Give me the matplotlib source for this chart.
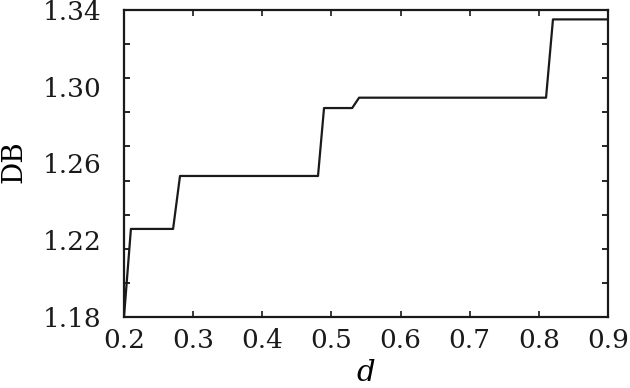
import matplotlib
matplotlib.use("Agg")
import matplotlib.pyplot as plt
import numpy as np

# data
d_vals = [0.200, 0.210, 0.271, 0.281, 0.4806, 0.4893, 0.530, 0.540, 0.8104, 0.8204, 0.900]
db_vals = [1.180, 1.2259, 1.2259, 1.2535, 1.2535, 1.2889, 1.2889, 1.2943, 1.2943, 1.3351, 1.3351]

x_ticks = [0.2, 0.3, 0.4, 0.5, 0.6, 0.7, 0.8, 0.9]
y_label_ticks = [1.18, 1.22, 1.26, 1.30, 1.34]
y_ticklabels = ["1.18", "1.22", "1.26", "1.30", "1.34"]

plt.rcParams['font.family'] = ['DejaVu Serif']
plt.rcParams['mathtext.fontset'] = 'dejavuserif'

fig = plt.figure(figsize=(6.3, 3.88), dpi=100)
ax = fig.add_axes([124/630, 1-317/388, (608-124)/630, (317-10)/388])

ax.plot(d_vals, db_vals, color='#1a1a1a', lw=1.6)

ax.set_xlim(0.2, 0.9)
ax.set_ylim(1.18, 1.34)

ax.set_xticks(x_ticks)
ax.set_xticklabels([f"{v:.1f}" for v in x_ticks])
ax.set_yticks(y_label_ticks)
ax.set_yticklabels(y_ticklabels)
ax.set_yticks(list(np.linspace(1.18, 1.34, 10)), minor=True)

ax.tick_params(axis='x', which='major', direction='in', length=4, width=1.2,
               top=True, labelsize=19, pad=8, colors='#1a1a1a')
ax.tick_params(axis='y', which='major', length=0, labelsize=19, pad=16, colors='#1a1a1a')
ax.tick_params(axis='y', which='minor', direction='in', length=4, width=1.2,
               left=True, right=True)

for s in ax.spines.values():
    s.set_linewidth(1.6)
    s.set_color('#1a1a1a')

ax.set_xlabel('$d$', fontsize=21)
ax.xaxis.set_label_coords(0.5, (317-373)/307)
ax.xaxis.label.set_verticalalignment('center')
ax.set_ylabel('DB', fontsize=20)
ax.yaxis.set_label_coords((14-124)/484, (317-162)/307)
ax.yaxis.label.set_verticalalignment('center')

fig.savefig('out.png', dpi=100)
